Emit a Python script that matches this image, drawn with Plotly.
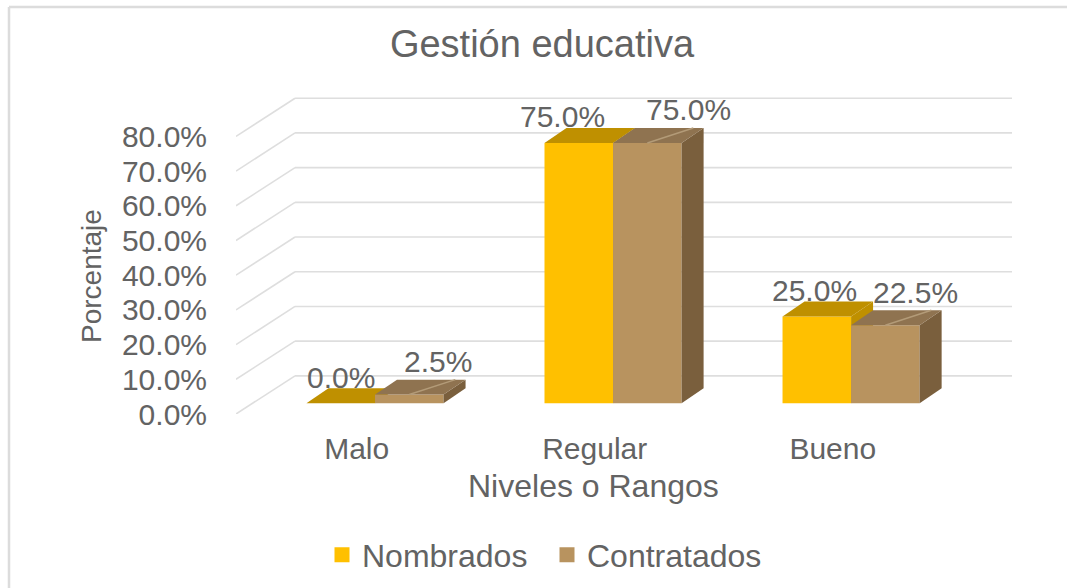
import plotly.graph_objects as go

# Chart data
categories = ["Malo", "Regular", "Bueno"]
nombrados = [0.0, 75.0, 25.0]
contratados = [2.5, 75.0, 22.5]
y_ticks = [0, 10, 20, 30, 40, 50, 60, 70, 80]

# Pseudo-3D geometry, in axis units
BAR_W = 0.288
FLOOR = 3.1           # bars stand slightly behind the front edge of the floor
DEPTH_X, DEPTH_Y = 0.0924, 4.3
WALL_X, WALL_Y = 0.248, 11.0
X_RANGE = [-0.584, 2.676]
Y_RANGE = [0, 93.37]
LABEL_SHIFT_X = ([0, -16, -2], [29, 41, 30])
LABEL_SHIFT_Y = (26, 33)
TICK_SHIFT = -0.077

# Plot area in pixels
LEFT, RIGHT, TOP, BOTTOM = 236, 1012, 90, 414
FONT = "Liberation Sans"
GREY = "#636363"
GRID = "#DEDEDE"


def px(x):
    return (x - LEFT) / (RIGHT - LEFT)


def py(y):
    return (BOTTOM - y) / (BOTTOM - TOP)


def poly(fig, xs, ys, color, axes):
    fig.add_trace(go.Scatter(x=xs, y=ys, mode="lines", fill="toself", fillcolor=color,
                             line=dict(width=0), hoverinfo="skip", showlegend=False,
                             xaxis=axes[0], yaxis=axes[1]))


def add_series(fig, name, values, start, front, top, side, axes, stripe=None):
    fig.add_trace(go.Bar(x=list(range(len(values))), y=values, base=FLOOR, offset=start,
                         width=BAR_W, marker=dict(color=front, line=dict(width=0)), name=name,
                         showlegend=False, xaxis=axes[0], yaxis=axes[1]))
    for i, v in enumerate(values):
        x0, x1 = i + start, i + start + BAR_W
        h = v + FLOOR
        poly(fig, [x1, x1 + DEPTH_X, x1 + DEPTH_X, x1],
             [FLOOR, FLOOR + DEPTH_Y, h + DEPTH_Y, h], side, axes)
        poly(fig, [x0, x1, x1 + DEPTH_X, x0 + DEPTH_X],
             [h, h, h + DEPTH_Y, h + DEPTH_Y], top, axes)
        if stripe:
            fig.add_trace(go.Scatter(x=[x0 + BAR_W * 0.5, x0 + BAR_W * 0.85 + DEPTH_X],
                                     y=[h, h + DEPTH_Y], mode="lines",
                                     line=dict(color=stripe, width=1.5), hoverinfo="skip",
                                     showlegend=False, xaxis=axes[0], yaxis=axes[1]))


fig = go.Figure()

# Yellow series sits on the base axes, tan series on an overlay so it paints in front
add_series(fig, "Nombrados", nombrados, -BAR_W, "#FFC000", "#BF9000", "#BF9000", ("x", "y"))
add_series(fig, "Contratados", contratados, 0, "#B8935F", "#8F7350", "#7A5F3D", ("x2", "y2"),
           stripe="#B39B78")

# Legend entries with square swatches
for name, color in (("Nombrados", "#FFC000"), ("Contratados", "#B8935F")):
    fig.add_trace(go.Scatter(x=[None], y=[None], mode="markers", name=name,
                             marker=dict(symbol="square", size=15, color=color)))

# Floor and back-wall gridlines, behind the bars
shapes = []
for v in y_ticks:
    for (xa, ya, xb, yb) in ((X_RANGE[0], v, X_RANGE[0] + WALL_X, v + WALL_Y),
                             (X_RANGE[0] + WALL_X, v + WALL_Y, X_RANGE[1], v + WALL_Y)):
        shapes.append(dict(type="line", xref="x", yref="y", x0=xa, y0=ya, x1=xb, y1=yb,
                           layer="below", line=dict(color=GRID, width=1.6)))
# Chart frame: top and left edges
for (xa, ya, xb, yb) in ((9, 7, 1067, 7), (9, 7, 9, 588)):
    shapes.append(dict(type="line", xref="paper", yref="paper", x0=px(xa), y0=py(ya),
                       x1=px(xb), y1=py(yb), layer="below",
                       line=dict(color="#DCDCDC", width=2.5)))

annotations = []
for s, values in enumerate((nombrados, contratados)):
    for i, v in enumerate(values):
        annotations.append(dict(x=i + (-BAR_W / 2 if s == 0 else BAR_W / 2), y=v + FLOOR,
                                xref="x", yref="y", text=f"{v:.1f}%", showarrow=False,
                                xanchor="center", yanchor="middle",
                                xshift=LABEL_SHIFT_X[s][i], yshift=LABEL_SHIFT_Y[s],
                                font=dict(family=FONT, size=30, color=GREY)))
annotations.append(dict(x=px(91), y=py(276), xref="paper", yref="paper", text="Porcentaje",
                        textangle=-90, showarrow=False, xanchor="center", yanchor="middle",
                        font=dict(family=FONT, size=28, color=GREY)))
annotations.append(dict(x=px(593), y=py(486), xref="paper", yref="paper",
                        text="Niveles o Rangos", showarrow=False, xanchor="center", yanchor="middle",
                        font=dict(family=FONT, size=32, color=GREY)))

fig.update_layout(
    width=1067, height=588, autosize=False,
    margin=dict(l=LEFT, r=1067 - RIGHT, t=TOP, b=588 - BOTTOM),
    paper_bgcolor="white", plot_bgcolor="rgba(0,0,0,0)",
    font=dict(family=FONT, color=GREY),
    title=dict(text="Gestión educativa", x=542 / 1067, xref="container", xanchor="center",
               y=1 - 44 / 588, yref="container", yanchor="middle",
               font=dict(family=FONT, size=38, color=GREY)),
    xaxis=dict(range=X_RANGE, showgrid=False, zeroline=False, showline=False, ticks="",
               tickvals=[i + TICK_SHIFT for i in range(len(categories))], ticktext=categories,
               ticklabelstandoff=14, tickfont=dict(family=FONT, size=30, color=GREY)),
    yaxis=dict(range=Y_RANGE, showgrid=False, zeroline=False, showline=False, ticks="",
               tickvals=y_ticks, ticktext=[f"{v:.1f}%" for v in y_ticks],
               ticklabelstandoff=28, tickfont=dict(family=FONT, size=30, color=GREY)),
    xaxis2=dict(range=X_RANGE, overlaying="x", visible=False),
    yaxis2=dict(range=Y_RANGE, overlaying="y", visible=False),
    legend=dict(orientation="h", xref="container", yref="container", x=547 / 1067, y=1 - 555 / 588,
                xanchor="center", yanchor="middle", entrywidth=180, entrywidthmode="pixels",
                font=dict(family=FONT, size=32, color=GREY), bgcolor="rgba(0,0,0,0)"),
    shapes=shapes, annotations=annotations,
)

fig.write_html("out.html")
